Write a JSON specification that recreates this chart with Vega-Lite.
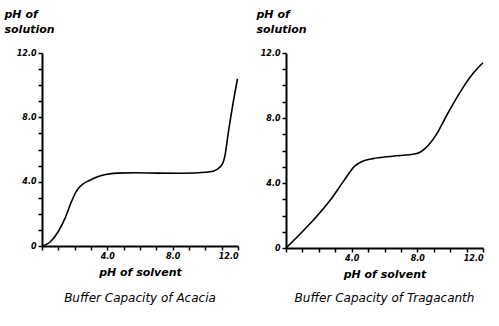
{
  "$schema": "https://vega.github.io/schema/vega-lite/v6.json",
  "padding": {"left": 4, "top": 8, "right": 5, "bottom": 5},
  "background": "white",
  "spacing": 15,
  "datasets": {
    "acacia": [
      {"x": 0, "y": 0}, {"x": 0.5, "y": 0.25}, {"x": 1.0, "y": 0.9}, {"x": 1.4, "y": 1.7},
      {"x": 1.8, "y": 2.75}, {"x": 2.1, "y": 3.4}, {"x": 2.5, "y": 3.85}, {"x": 2.9, "y": 4.07},
      {"x": 3.4, "y": 4.3}, {"x": 3.9, "y": 4.45}, {"x": 4.6, "y": 4.53}, {"x": 5.7, "y": 4.55},
      {"x": 7.0, "y": 4.53}, {"x": 8.5, "y": 4.52}, {"x": 10.2, "y": 4.6}, {"x": 10.7, "y": 4.75},
      {"x": 11.05, "y": 5.1}, {"x": 11.2, "y": 5.6}, {"x": 11.4, "y": 7.0}, {"x": 11.7, "y": 8.9},
      {"x": 11.97, "y": 10.4}
    ],
    "tragacanth": [
      {"x": 0, "y": 0}, {"x": 0.8, "y": 0.8}, {"x": 1.7, "y": 1.75}, {"x": 2.7, "y": 2.95},
      {"x": 3.5, "y": 4.1}, {"x": 4.2, "y": 5.05}, {"x": 4.7, "y": 5.35}, {"x": 5.3, "y": 5.5},
      {"x": 6.5, "y": 5.65}, {"x": 7.9, "y": 5.8}, {"x": 8.5, "y": 6.15}, {"x": 9.2, "y": 7.05},
      {"x": 9.7, "y": 8.0}, {"x": 10.2, "y": 8.9}, {"x": 10.8, "y": 9.9}, {"x": 11.4, "y": 10.75},
      {"x": 12.0, "y": 11.4}
    ]
  },
  "config": {
    "view": {"stroke": null},
    "font": "DejaVu Sans",
    "axis": {
      "grid": false,
      "domainColor": "black",
      "domainWidth": 2,
      "tickColor": "black",
      "tickWidth": 1.5,
      "tickSize": 4,
      "labelColor": "black",
      "labelFont": "DejaVu Sans",
      "labelFontStyle": "italic",
      "labelFontWeight": "bold",
      "labelFontSize": 8,
      "titleColor": "black",
      "titleFont": "DejaVu Sans",
      "titleFontStyle": "italic",
      "titleFontWeight": "bold",
      "titleFontSize": 11
    },
    "title": {"font": "DejaVu Sans", "fontStyle": "italic", "fontWeight": "normal", "fontSize": 12, "color": "black"}
  },
  "hconcat": [
    {
      "width": 196,
      "height": 193,
      "title": {"text": "Buffer Capacity of Acacia", "orient": "bottom", "offset": 16},
      "data": {"name": "acacia"},
      "mark": {"type": "line", "color": "black", "strokeWidth": 1.6, "interpolate": "monotone"},
      "encoding": {
        "x": {"field": "x", "type": "quantitative", "scale": {"domain": [0, 12], "nice": false},
          "axis": {"values": [0,1,2,3,4,5,6,7,8,9,10,11,12], "labelExpr": "datum.value % 4 == 0 && datum.value > 0 ? format(datum.value, '.1f') : ''", "title": "pH of solvent", "titlePadding": 6}},
        "y": {"field": "y", "type": "quantitative", "scale": {"domain": [0, 12], "nice": false},
          "axis": {"values": [0,1,2,3,4,5,6,7,8,9,10,11,12], "labelExpr": "datum.value == 0 ? '0' : (datum.value % 4 == 0 ? format(datum.value, '.1f') : '')", "title": ["pH of", "solution"], "titleAngle": 0, "titleAlign": "left", "titleBaseline": "top", "titleX": -38, "titleY": -45, "titleLineHeight": 15}}
      }
    },
    {
      "width": 197,
      "height": 195,
      "title": {"text": "Buffer Capacity of Tragacanth", "orient": "bottom", "offset": 14},
      "data": {"name": "tragacanth"},
      "mark": {"type": "line", "color": "black", "strokeWidth": 1.6, "interpolate": "monotone"},
      "encoding": {
        "x": {"field": "x", "type": "quantitative", "scale": {"domain": [0, 12], "nice": false},
          "axis": {"values": [0,1,2,3,4,5,6,7,8,9,10,11,12], "labelExpr": "datum.value % 4 == 0 && datum.value > 0 ? format(datum.value, '.1f') : ''", "title": "pH of solvent", "titlePadding": 6}},
        "y": {"field": "y", "type": "quantitative", "scale": {"domain": [0, 12], "nice": false},
          "axis": {"values": [0,1,2,3,4,5,6,7,8,9,10,11,12], "labelExpr": "datum.value == 0 ? '0' : (datum.value % 4 == 0 ? format(datum.value, '.1f') : '')", "title": ["pH of", "solution"], "titleAngle": 0, "titleAlign": "left", "titleBaseline": "top", "titleX": -30, "titleY": -45, "titleLineHeight": 15}}
      }
    }
  ]
}
